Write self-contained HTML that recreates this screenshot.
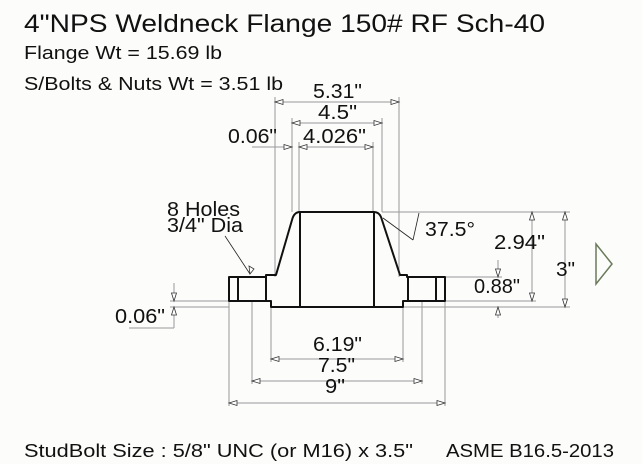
<!DOCTYPE html>
<html><head><style>
html,body{margin:0;padding:0;background:#fcfcfa;}
svg{display:block;}
text{font-family:"Liberation Sans",sans-serif;fill:#111;}
</style></head><body>
<svg width="642" height="464" viewBox="0 0 642 464" xmlns="http://www.w3.org/2000/svg">
<rect width="642" height="464" fill="#fcfcfa"/>
<text x="24" y="32" font-size="25" textLength="521" lengthAdjust="spacingAndGlyphs">4"NPS Weldneck Flange 150# RF Sch-40</text>
<text x="24" y="59" font-size="18" textLength="198" lengthAdjust="spacingAndGlyphs">Flange Wt =  15.69 lb</text>
<text x="24" y="90" font-size="18" textLength="259" lengthAdjust="spacingAndGlyphs">S/Bolts &amp; Nuts Wt =  3.51 lb</text>
<text x="24" y="457" font-size="18" textLength="389" lengthAdjust="spacingAndGlyphs">StudBolt Size : 5/8" UNC  (or M16)  x 3.5"</text>
<text x="446" y="457" font-size="18" textLength="168" lengthAdjust="spacingAndGlyphs">ASME B16.5-2013</text>

<g stroke="#999" stroke-width="1" fill="none">
<line x1="275" y1="97" x2="275" y2="277"/>
<line x1="399" y1="97" x2="399" y2="277"/>
<line x1="292" y1="118" x2="292" y2="212"/>
<line x1="382" y1="118" x2="382" y2="212"/>
<line x1="299" y1="142" x2="299" y2="212"/>
<line x1="373" y1="142" x2="373" y2="212"/>
<line x1="275" y1="102" x2="399" y2="102"/>
<line x1="292" y1="123" x2="382" y2="123"/>
<line x1="252" y1="147" x2="292" y2="147"/>
<line x1="299" y1="147" x2="373" y2="147"/>
<line x1="229" y1="302" x2="229" y2="406"/>
<line x1="445" y1="302" x2="445" y2="406"/>
<line x1="252" y1="302" x2="252" y2="384"/>
<line x1="422" y1="302" x2="422" y2="384"/>
<line x1="271" y1="307" x2="271" y2="362"/>
<line x1="403" y1="307" x2="403" y2="362"/>
<line x1="229" y1="403" x2="445" y2="403"/>
<line x1="252" y1="381" x2="422" y2="381"/>
<line x1="271" y1="359" x2="403" y2="359"/>
<line x1="382" y1="212" x2="570" y2="212"/>
<line x1="445" y1="277" x2="502" y2="277"/>
<line x1="445" y1="301" x2="536" y2="301"/>
<line x1="403" y1="307" x2="570" y2="307"/>
<line x1="565" y1="212" x2="565" y2="307"/>
<line x1="532" y1="212" x2="532" y2="301"/>
<line x1="498" y1="260" x2="498" y2="277"/>
<line x1="498" y1="307" x2="498" y2="318"/>
<line x1="170" y1="301" x2="229" y2="301"/>
<line x1="170" y1="307" x2="229" y2="307"/>
<line x1="174" y1="283" x2="174" y2="301"/>
<line x1="174" y1="307" x2="174" y2="328"/>
<line x1="129" y1="328" x2="174" y2="328"/>
</g>
<g stroke="#222" stroke-width="0.8" fill="none">
<line x1="225" y1="236" x2="250" y2="274"/>
<line x1="383" y1="218" x2="413" y2="240"/>
<line x1="419" y1="213" x2="413" y2="240"/>
</g>
<g fill="#fff" stroke="#333" stroke-width="0.8">
<path d="M275 102 l8 -2.5 v5z"/><path d="M399 102 l-8 -2.5 v5z"/>
<path d="M292 123 l8 -2.5 v5z"/><path d="M382 123 l-8 -2.5 v5z"/>
<path d="M292 147 l-8 -2.5 v5z"/><path d="M299 147 l8 -2.5 v5z"/><path d="M373 147 l-8 -2.5 v5z"/>
<path d="M229 403 l8 -2.5 v5z"/><path d="M445 403 l-8 -2.5 v5z"/>
<path d="M252 381 l8 -2.5 v5z"/><path d="M422 381 l-8 -2.5 v5z"/>
<path d="M271 359 l8 -2.5 v5z"/><path d="M403 359 l-8 -2.5 v5z"/>
<path d="M565 212 l-2.5 8 h5z"/><path d="M565 307 l-2.5 -8 h5z"/>
<path d="M532 212 l-2.5 8 h5z"/><path d="M532 301 l-2.5 -8 h5z"/>
<path d="M498 277 l-2.5 -8 h5z"/><path d="M498 307 l-2.5 8 h5z"/>
<path d="M174 301 l-2.5 -8 h5z"/><path d="M174 307 l-2.5 8 h5z"/>
<path d="M250 274 l-1 -8 l5 3z"/>
</g>
<g stroke="#111" stroke-width="2" fill="none" stroke-linejoin="round">
<path d="M300 212 H374 Q380 212 382 220 L400 275 H407 V277 H445 V301 H403 V307 H271 V301 H229 V277 H266 V275 H276 L292 220 Q294 212 300 212Z"/>
<line x1="300" y1="212" x2="300" y2="307"/>
<line x1="374" y1="212" x2="374" y2="307"/>
<line x1="238" y1="277" x2="238" y2="301"/>
<line x1="266" y1="277" x2="266" y2="301"/>
<line x1="408" y1="277" x2="408" y2="301"/>
<line x1="436" y1="277" x2="436" y2="301"/>
</g>
<g font-size="20">
<text x="313" y="98" textLength="49" lengthAdjust="spacingAndGlyphs">5.31"</text>
<text x="318" y="119" textLength="39" lengthAdjust="spacingAndGlyphs">4.5"</text>
<text x="228" y="143" textLength="49" lengthAdjust="spacingAndGlyphs">0.06"</text>
<text x="303" y="143" textLength="63" lengthAdjust="spacingAndGlyphs">4.026"</text>
<text x="167" y="216" textLength="73" lengthAdjust="spacingAndGlyphs">8 Holes</text>
<text x="167" y="232" textLength="76" lengthAdjust="spacingAndGlyphs">3/4" Dia</text>
<text x="425" y="236" textLength="50" lengthAdjust="spacingAndGlyphs">37.5°</text>
<text x="494" y="249" textLength="51" lengthAdjust="spacingAndGlyphs">2.94"</text>
<text x="556" y="276" textLength="19" lengthAdjust="spacingAndGlyphs">3"</text>
<text x="474" y="293" textLength="46" lengthAdjust="spacingAndGlyphs">0.88"</text>
<text x="115" y="323" textLength="50" lengthAdjust="spacingAndGlyphs">0.06"</text>
<text x="313" y="351" textLength="49" lengthAdjust="spacingAndGlyphs">6.19"</text>
<text x="318" y="372" textLength="37" lengthAdjust="spacingAndGlyphs">7.5"</text>
<text x="325" y="393" textLength="20" lengthAdjust="spacingAndGlyphs">9"</text>
</g>
<path d="M596 244 L612 264 L596 284 Z" fill="none" stroke="#6a7a5a" stroke-width="1.5"/>
</svg>
</body></html>
